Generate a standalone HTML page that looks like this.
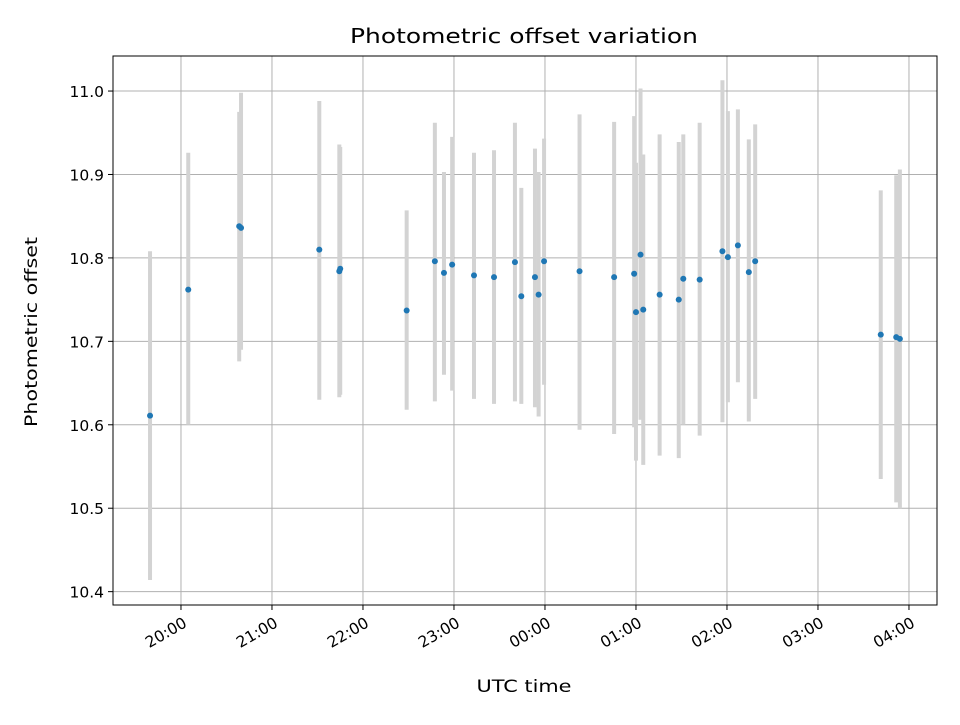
<!DOCTYPE html>
<html><head><meta charset="utf-8"><style>
body{margin:0;background:#fff;}
svg text{font-family:"DejaVu Sans","Liberation Sans",sans-serif;fill:#000;}
</style></head><body>
<svg id="chart" width="960" height="720">
<rect width="960" height="720" fill="#fff"/>
<text x="524" y="43" font-size="20" text-anchor="middle" textLength="348" lengthAdjust="spacingAndGlyphs">Photometric offset variation</text>
<g id="grid"></g><g id="bars"></g><g id="pts"></g><g id="axes"></g>
<text x="524" y="692" font-size="17" text-anchor="middle" textLength="95" lengthAdjust="spacingAndGlyphs">UTC time</text>
<text transform="translate(37,332) rotate(-90)" font-size="17" text-anchor="middle" textLength="190" lengthAdjust="spacingAndGlyphs">Photometric offset</text>
</svg>
<script>
// times in hours since 00:00 of the first evening (values >24 are the next day)
const times=[19.66,20.08,20.64,20.66,21.52,21.74,21.75,22.48,22.79,22.89,22.98,23.22,23.44,23.67,23.74,23.89,23.93,23.99,24.38,24.76,24.98,25.00,25.05,25.08,25.26,25.47,25.52,25.70,25.95,26.01,26.12,26.24,26.31,27.69,27.86,27.90];
const offsets=[10.611,10.762,10.838,10.836,10.810,10.784,10.787,10.737,10.796,10.782,10.792,10.779,10.777,10.795,10.754,10.777,10.756,10.796,10.784,10.777,10.781,10.735,10.804,10.738,10.756,10.750,10.775,10.774,10.808,10.801,10.815,10.783,10.796,10.708,10.705,10.703];
const errLow=[10.414,10.600,10.676,10.690,10.630,10.633,10.636,10.618,10.628,10.660,10.641,10.631,10.625,10.628,10.625,10.621,10.610,10.648,10.594,10.589,10.597,10.557,10.606,10.552,10.563,10.560,10.600,10.587,10.603,10.627,10.651,10.604,10.631,10.535,10.507,10.500];
const errHigh=[10.808,10.926,10.975,10.998,10.988,10.936,10.933,10.857,10.962,10.903,10.945,10.926,10.929,10.962,10.884,10.931,10.903,10.943,10.972,10.963,10.970,10.914,11.003,10.924,10.948,10.939,10.948,10.962,11.013,10.976,10.978,10.942,10.960,10.881,10.899,10.906];
const yTicks=[10.4,10.5,10.6,10.7,10.8,10.9,11.0];
const xTicks=[20,21,22,23,24,25,26,27,28];
const xTickLabels=["20:00","21:00","22:00","23:00","00:00","01:00","02:00","03:00","04:00"];

const L=113,R=937,T=56,B=605;
const x0=19.253,x1=28.308,y0=10.384,y1=11.042;
const sx=h=>L+(h-x0)/(x1-x0)*(R-L);
const sy=v=>B-(v-y0)/(y1-y0)*(B-T);
const NS="http://www.w3.org/2000/svg";
function mk(tag,parent,attrs){const e=document.createElementNS(NS,tag);for(const k in attrs)e.setAttribute(k,attrs[k]);document.getElementById(parent).appendChild(e);return e;}
xTicks.forEach((t,i)=>{
  const g=mk('line','grid',{x1:sx(t),x2:sx(t),y1:T,y2:B,stroke:'#b0b0b0','stroke-width':1});
  
  
  mk('line','axes',{x1:sx(t),x2:sx(t),y1:B,y2:B+5,stroke:'#000','stroke-width':1});
  const tx=mk('text','axes',{x:sx(t)+3,y:B+22,'font-size':15.5,'text-anchor':'end',transform:`rotate(-30 ${sx(t)+3} ${B+14})`});
  tx.textContent=xTickLabels[i];
  
  
});
yTicks.forEach(t=>{
  const g=mk('line','grid',{x1:L,x2:R,y1:sy(t),y2:sy(t),stroke:'#b0b0b0','stroke-width':1});
  
  
  mk('line','axes',{x1:L-5,x2:L,y1:sy(t),y2:sy(t),stroke:'#000','stroke-width':1});
  const tx=mk('text','axes',{x:L-9,y:sy(t)+6,'font-size':15.5,'text-anchor':'end'});
  tx.textContent=t.toFixed(1);
  
  
});
const fr=mk('rect','axes',{x:L,y:T,width:R-L,height:B-T,fill:'none',stroke:'#000','stroke-width':1});


times.forEach((t,i)=>{
  const b=mk('line','bars',{x1:sx(t),x2:sx(t),y1:sy(errLow[i]),y2:sy(errHigh[i]),stroke:'#d3d3d3','stroke-width':4});
  
  
  const p=mk('circle','pts',{cx:sx(t),cy:sy(offsets[i]),r:3,fill:'#1f77b4'});
  
  
});
</script>
</body></html>
